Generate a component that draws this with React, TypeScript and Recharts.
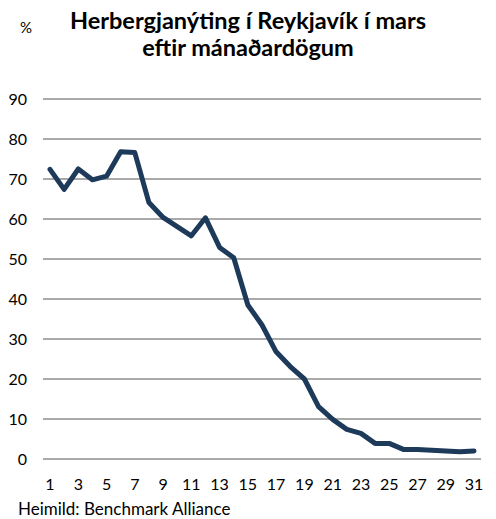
import React from "react";
import { LineChart, Line, XAxis, YAxis, CartesianGrid } from "recharts";

const days: number[] = Array.from({ length: 31 }, (_, i) => i + 1);
const occupancy: number[] = [
  72.4, 67.4, 72.5, 69.8, 70.7, 76.8, 76.6, 64.1, 60.4, 58.1,
  55.8, 60.3, 52.9, 50.3, 38.5, 33.5, 26.8, 23.1, 20.0, 13.1,
  9.9, 7.4, 6.4, 3.9, 3.9, 2.4, 2.4, 2.2, 2.0, 1.8, 2.0,
];
const yTicks: number[] = [0, 10, 20, 30, 40, 50, 60, 70, 80, 90];
const xTicks: number[] = [1, 3, 5, 7, 9, 11, 13, 15, 17, 19, 21, 23, 25, 27, 29, 31];
const titleLines: string[] = ["Herbergjanýting í Reykjavík í mars", "eftir mánaðardögum"];
const unitLabel = "%";
const sourceText = "Heimild: Benchmark Alliance";

const data = days.map((d, i) => ({ day: d, value: occupancy[i] }));

const FONT = "Lato, 'Open Sans', sans-serif";

export default function App() {
  return (
    <div style={{ position: "absolute", left: 0, top: 0, width: 496, height: 519, background: "#fff", fontFamily: FONT }}>
      <div style={{ position: "absolute", left: 0, top: 7, width: 496, textAlign: "center", fontWeight: 700, fontSize: 23.5, lineHeight: "27px", color: "#000" }}>
        {titleLines.map((t, i) => (
          <div key={i}>{t}</div>
        ))}
      </div>
      <div style={{ position: "absolute", left: 20, top: 18, fontSize: 15, color: "#000" }}>{unitLabel}</div>
      <div style={{ position: "absolute", left: 0, top: 0 }}>
        <LineChart width={496} height={519} data={data} margin={{ top: 99, right: 15, bottom: 30, left: 0 }}>
          <CartesianGrid vertical={false} stroke="#8c8c8c" strokeWidth={1.6} />
          <XAxis
            dataKey="day"
            type="category"
            ticks={xTicks}
            interval={0}
            height={30}
            padding={{ left: 7, right: 7 }}
            axisLine={false}
            tickLine={false}
            tickSize={0}
            tickMargin={20}
            tick={{ fill: "#000", fontSize: 16, fontFamily: FONT }}
          />
          <YAxis
            domain={[0, 90]}
            ticks={yTicks}
            width={43}
            axisLine={false}
            tickLine={false}
            tickSize={0}
            tickMargin={16}
            tick={{ fill: "#000", fontSize: 16, fontFamily: FONT }}
          />
          <Line
            type="linear"
            dataKey="value"
            stroke="#1d3a5a"
            strokeWidth={5}
            dot={false}
            isAnimationActive={false}
            strokeLinejoin="round"
            strokeLinecap="round"
          />
        </LineChart>
      </div>
      <div style={{ position: "absolute", left: 18, top: 498, fontSize: 17, color: "#000", whiteSpace: "nowrap" }}>{sourceText}</div>
    </div>
  );
}
